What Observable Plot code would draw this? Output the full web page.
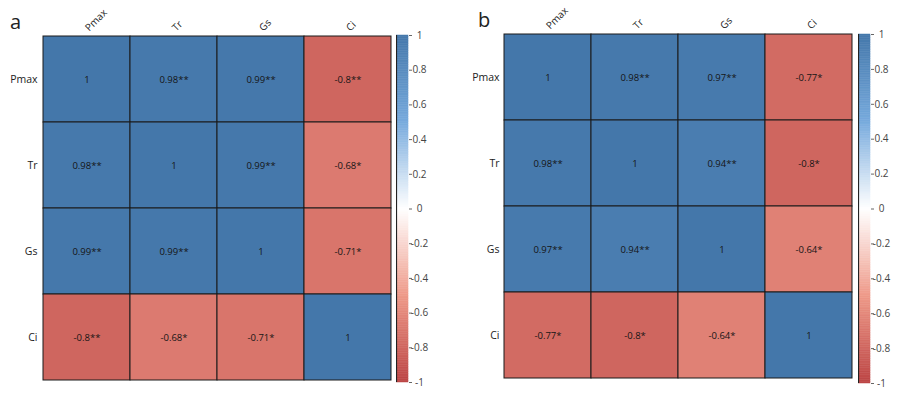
<!DOCTYPE html>
<html>
<head>
<meta charset="utf-8">
<script src="https://cdn.jsdelivr.net/npm/d3@7"></script>
<script src="https://cdn.jsdelivr.net/npm/@observablehq/plot@0.6"></script>
<style>
  body { margin: 0; background: #fff; }
  #wrap { position: relative; width: 902px; height: 394px; font-family: "Open Sans", sans-serif; }
  .panel-label { font-size: 20px; color: #222; line-height: 1; }
</style>
</head>
<body>
<div id="wrap"></div>
<script>
const vars = ["Pmax", "Tr", "Gs", "Ci"];
const corrA = [
  [1, 0.98, 0.99, -0.8],
  [0.98, 1, 0.99, -0.68],
  [0.99, 0.99, 1, -0.71],
  [-0.8, -0.68, -0.71, 1]
];
const sigA = [
  ["", "**", "**", "**"],
  ["**", "", "**", "*"],
  ["**", "**", "", "*"],
  ["**", "*", "*", ""]
];
const corrB = [
  [1, 0.98, 0.97, -0.77],
  [0.98, 1, 0.94, -0.8],
  [0.97, 0.94, 1, -0.64],
  [-0.77, -0.8, -0.64, 1]
];
const sigB = [
  ["", "**", "**", "*"],
  ["**", "", "**", "*"],
  ["**", "**", "", "*"],
  ["*", "*", "*", ""]
];
const legendTicks = [-1, -0.8, -0.6, -0.4, -0.2, 0, 0.2, 0.4, 0.6, 0.8, 1];
const paletteStops = [-1, -0.5, 0, 0.5, 1];
const paletteColors = ["#BB4444", "#EE9988", "#FFFFFF", "#77AADD", "#4477AA"];

const colorScale = {type: "linear", domain: paletteStops, range: paletteColors, interpolate: "rgb"};
const font = "Open Sans, sans-serif";

function toTable(corr, sig) {
  const rows = [];
  vars.forEach((r, i) => vars.forEach((c, j) => {
    rows.push({row: r, col: c, v: corr[i][j], label: String(corr[i][j]) + sig[i][j]});
  }));
  return rows;
}

function panel(corr, sig, opts) {
  const data = toTable(corr, sig);
  return Plot.plot({
    width: opts.width, height: 394,
    marginLeft: opts.ml, marginRight: opts.mr, marginTop: opts.mt, marginBottom: opts.mb,
    style: {fontFamily: font, fontSize: "10px", color: "#222", background: "transparent"},
    x: {domain: vars, padding: 0, axis: null},
    y: {domain: vars, padding: 0, axis: null},
    color: colorScale,
    marks: [
      Plot.cell(data, {x: "col", y: "row", fill: "v", stroke: "#1b1b1b", strokeWidth: 1, inset: 0}),
      Plot.text(data, {x: "col", y: "row", text: "label", fill: "#151515", fontSize: 9.5}),
      Plot.axisX({anchor: "top", label: null, tickSize: 0, tickPadding: 6, tickRotate: -45, fontSize: 10, fill: "#222"}),
      Plot.axisY({anchor: "left", label: null, tickSize: 0, tickPadding: opts.pad, fontSize: 10.5, fill: "#222"})
    ]
  });
}

function legend(opts) {
  const steps = d3.range(0, 200).map(i => ({y1: -1 + i * 0.01, y2: -1 + (i + 1) * 0.01}));
  return Plot.plot({
    width: opts.width, height: 394,
    marginLeft: 0, marginRight: opts.mr, marginTop: opts.mt, marginBottom: opts.mb,
    style: {fontFamily: font, fontSize: "10px", color: "#333", background: "transparent"},
    x: {domain: [0, 1], axis: null},
    y: {domain: [-1, 1], axis: null},
    color: colorScale,
    marks: [
      Plot.rect(steps, {x1: 0, x2: 1, y1: "y1", y2: "y2", fill: d => (d.y1 + d.y2) / 2, stroke: d => (d.y1 + d.y2) / 2, strokeWidth: 0.5}),
      Plot.ruleX([0], {stroke: "#222", strokeWidth: 1.2}),
      Plot.axisY({anchor: "right", label: null, ticks: legendTicks, tickFormat: d => String(Math.round(d * 10) / 10), tickSize: 3, tickPadding: 8, textAnchor: "middle", fontSize: 10, fill: "#444", stroke: "#666"})
    ]
  });
}

const wrap = document.getElementById("wrap");
function place(node, left, top) {
  node.style.position = "absolute";
  node.style.left = left + "px";
  node.style.top = top + "px";
  wrap.appendChild(node);
}

place(panel(corrA, sigA, {width: 396, ml: 43, mr: 5, mt: 35, mb: 13, pad: 6}), 0, 0);
place(legend({width: 50, mr: 38, mt: 35, mb: 12}), 396, 0);
place(panel(corrB, sigB, {width: 405, ml: 53, mr: 4, mt: 33, mb: 15, pad: 5}), 451, 0);
place(legend({width: 44, mr: 32, mt: 34, mb: 11}), 858, 0);

const la = document.createElement("div");
la.className = "panel-label"; la.textContent = "a";
place(la, 10, 12);
const lb = document.createElement("div");
lb.className = "panel-label"; lb.textContent = "b";
place(lb, 478, 10);
</script>
</body>
</html>
